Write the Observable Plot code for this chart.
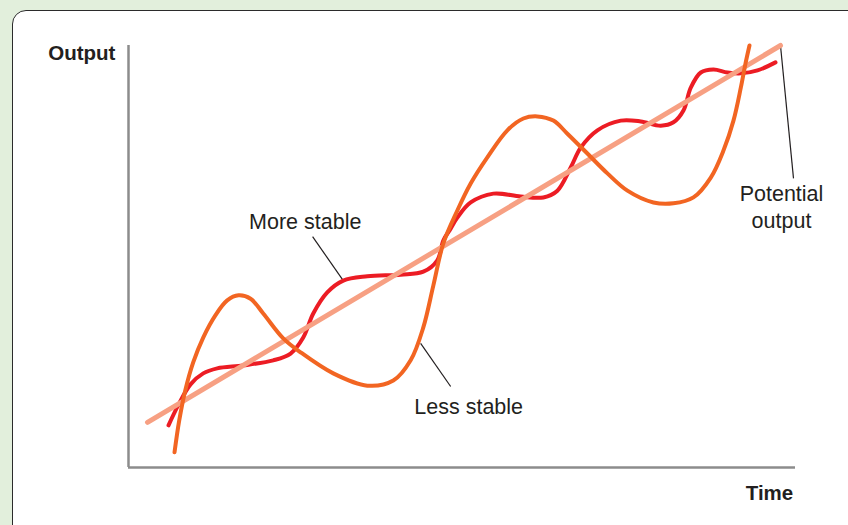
<!DOCTYPE html>
<html>
<head>
<meta charset="utf-8">
<script src="https://cdn.jsdelivr.net/npm/d3@7"></script>
<script src="https://cdn.jsdelivr.net/npm/@observablehq/plot@0.6"></script>
<style>
  html, body { margin: 0; padding: 0; width: 848px; height: 525px; overflow: hidden; background: #e2efdc; }
  #panel { position: absolute; left: 12px; top: 10px; width: 900px; height: 560px; background: #fff;
           border: 1.5px solid #2b2b2b; border-radius: 14px; box-sizing: border-box; }
  #chart { position: absolute; left: 0; top: 0; }
</style>
</head>
<body>
<div id="panel"></div>
<div id="chart"></div>
<script>
// Time (0–100) and Output (0–100)
const potentialT = [2.85, 97.75];
const potentialV = [10.7, 100];

const moreStableT = [6.0, 7.5, 9.3, 11.2, 13.3, 17.2, 21.7, 24.3, 26.2, 27.7, 29.8, 32.2, 35.8, 40.8, 44.2, 46.3, 47.2, 48.3, 49.3, 51.3, 54.7, 58.8, 62.2, 64.3, 66.3, 67.8, 70.3, 73.8, 76.8, 79.8, 81.7, 83.2, 84.3, 85.8, 87.7, 89.8, 91.8, 94.3, 97.0];
const moreStableV = [10.0, 14.9, 19.7, 22.3, 23.5, 24.2, 25.4, 27.0, 30.8, 36.5, 41.5, 44.3, 45.3, 45.7, 46.4, 49.1, 53.8, 56.6, 59.2, 62.8, 64.9, 64.2, 64.0, 65.6, 71.1, 75.8, 79.9, 82.2, 82.0, 81.0, 81.8, 84.6, 90.0, 93.6, 94.3, 93.6, 93.4, 94.1, 96.0];

const lessStableT = [6.9, 7.6, 8.5, 9.7, 11.2, 13.0, 14.8, 16.5, 18.3, 20.2, 23.2, 25.8, 30.7, 35.8, 39.7, 42.3, 44.2, 45.7, 47.2, 49.3, 51.3, 53.8, 56.8, 59.2, 61.3, 63.7, 65.8, 68.8, 71.8, 74.8, 78.7, 81.7, 84.7, 87.3, 89.2, 90.7, 91.8, 92.5, 93.1];
const lessStableV = [3.6, 11.1, 18.2, 24.9, 30.8, 36.0, 39.6, 40.8, 40.0, 36.5, 30.6, 27.3, 22.3, 19.4, 20.6, 25.4, 33.2, 43.1, 53.1, 60.9, 67.3, 73.5, 79.9, 82.7, 83.2, 82.2, 79.1, 74.4, 69.7, 65.6, 62.8, 62.6, 64.0, 68.7, 75.1, 82.2, 90.0, 95.7, 100];

// Annotations: label text, label position, leader line from label to curve
const labelTexts = ["More stable", "Less stable", "Potential\noutput"];
const labelT = [26.5, 51.0, 97.9];
const labelV = [58.5, 14.7, 62.0];
const leaderT1 = [27.6, 43.8, 97.75];
const leaderV1 = [54.7, 29.4, 100];
const leaderT2 = [32.2, 48.3, 99.7];
const leaderV2 = [44.3, 19.2, 68.5];

const axisTitles = ["Output", "Time"];
const axisTitleT = [-7.0, 96.1];
const axisTitleV = [98.1, -6.2];

const pts = (T, V) => T.map((t, i) => ({t, v: V[i]}));
const potential = pts(potentialT, potentialV);
const moreStable = pts(moreStableT, moreStableV);
const lessStable = pts(lessStableT, lessStableV);
const labels = labelTexts.map((s, i) => ({s, t: labelT[i], v: labelV[i]}));
const leaders = labelTexts.map((s, i) => ({t1: leaderT1[i], v1: leaderV1[i], t2: leaderT2[i], v2: leaderV2[i]}));
const titles = axisTitles.map((s, i) => ({s, t: axisTitleT[i], v: axisTitleV[i]}));

const chart = Plot.plot({
  width: 848,
  height: 525,
  marginLeft: 128,
  marginRight: 53,
  marginTop: 45,
  marginBottom: 58,
  x: {domain: [0, 100], axis: null},
  y: {domain: [0, 100], axis: null},
  style: {background: "transparent", fontFamily: "'Liberation Sans', Arial, sans-serif", overflow: "visible"},
  marks: [
    Plot.ruleX([0], {y1: 0, y2: 100, stroke: "#8c8c8c", strokeWidth: 2.5}),
    Plot.ruleY([0], {x1: 0, x2: 100, stroke: "#8c8c8c", strokeWidth: 2.5}),
    Plot.link(leaders, {x1: "t1", y1: "v1", x2: "t2", y2: "v2", stroke: "#231f20", strokeWidth: 1.2}),
    Plot.line(moreStable, {x: "t", y: "v", curve: "catmull-rom", stroke: "#ec1c24", strokeWidth: 4}),
    Plot.line(potential, {x: "t", y: "v", stroke: "#f7a083", strokeWidth: 5}),
    Plot.line(lessStable, {x: "t", y: "v", curve: "catmull-rom", stroke: "#f26522", strokeWidth: 4}),
    Plot.text(labels, {x: "t", y: "v", text: "s", fill: "#231f20", fontSize: 21.5, lineHeight: 1.25, textAnchor: "middle"}),
    Plot.text(titles, {x: "t", y: "v", text: "s", fill: "#231f20", fontSize: 20.5, fontWeight: "bold", textAnchor: "middle"})
  ]
});
document.getElementById("chart").appendChild(chart);
</script>
</body>
</html>
